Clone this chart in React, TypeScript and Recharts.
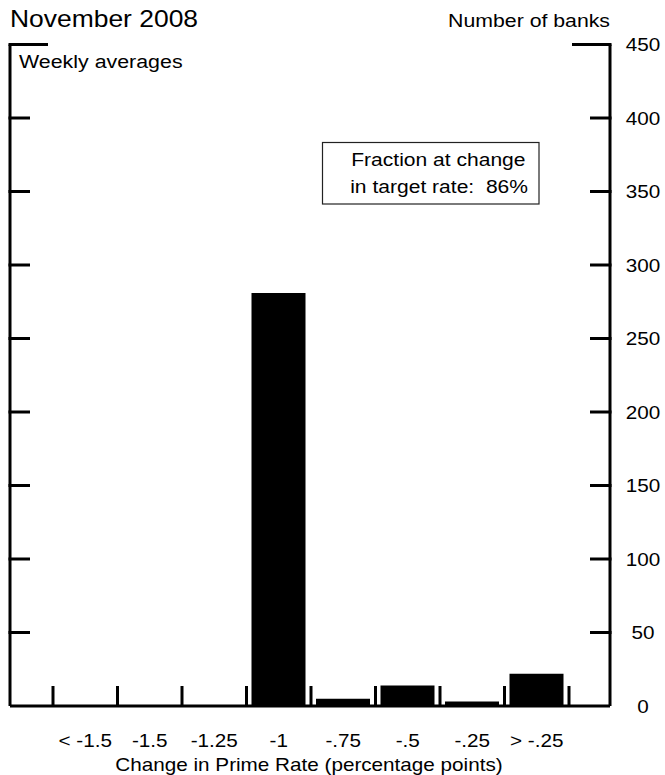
import React from 'react';
import { BarChart, Bar, XAxis, YAxis } from 'recharts';

const categories = ['< -1.5', '-1.5', '-1.25', '-1', '-.75', '-.5', '-.25', '> -.25'];
const bankCounts = [0, 0, 0, 281, 5, 14, 3, 22];
const yTicks = [0, 50, 100, 150, 200, 250, 300, 350, 400, 450];

const subtitle = 'November 2008';
const unitLabel = 'Number of banks';
const noteLabel = 'Weekly averages';
const boxLines = ['Fraction at change', 'in target rate:\u00A0\u00A086%'];
const xTitle = 'Change in Prime Rate (percentage points)';

const data = categories.map((c, i) => ({ category: c, banks: bankCounts[i] }));

const FONT = "'Liberation Sans', Arial, Helvetica, sans-serif";
const K = 1.15;

const W = 665;
const H = 775;
const MARGIN = { top: 44.5, right: 0, bottom: 68, left: 0 };
const LEFT_AXIS_W = 10;
const RIGHT_AXIS_W = 55;
const X_PAD = { left: 43, right: 41 };
const BASE_Y = H - MARGIN.bottom - 1;
const BAND =
  (W - MARGIN.left - MARGIN.right - LEFT_AXIS_W - RIGHT_AXIS_W - X_PAD.left - X_PAD.right) /
  categories.length;

const SText = ({ x, y, size, anchor = 'start', k = K, children }: any) => (
  <text
    transform={`translate(${x},${y}) scale(${k},1)`}
    textAnchor={anchor}
    fontSize={size}
    fontFamily={FONT}
    fill="#000"
  >
    {children}
  </text>
);

const LeftTick = (props: any) => {
  const { x, y, payload } = props;
  if (payload.value === 0) return <g />;
  const len = payload.value === 450 ? 38 : 20;
  return <line x1={x - 1.5} y1={y} x2={x + len} y2={y} stroke="#000" strokeWidth={3} />;
};

const RightTick = (props: any) => {
  const { x, y, payload } = props;
  const v = payload.value;
  const len = v === 450 ? 38 : 20;
  return (
    <g>
      {v !== 0 && <line x1={x - len} y1={y} x2={x + 1.5} y2={y} stroke="#000" strokeWidth={3} />}
      <SText x={x + 33} y={y + 6.5} size={18} anchor="middle">{v}</SText>
    </g>
  );
};

const CategoryTick = (props: any) => {
  const { x, payload, index } = props;
  const half = BAND / 2;
  const isLast = index === categories.length - 1;
  return (
    <g>
      <line x1={x - half} y1={BASE_Y} x2={x - half} y2={BASE_Y - 20} stroke="#000" strokeWidth={3} />
      {isLast && (
        <line x1={x + half} y1={BASE_Y} x2={x + half} y2={BASE_Y - 20} stroke="#000" strokeWidth={3} />
      )}
      <SText x={x} y={BASE_Y + 41} size={18} anchor="middle">{payload.value}</SText>
    </g>
  );
};

export default function App() {
  return (
    <div style={{ position: 'absolute', left: 0, top: 0, width: W, height: H, background: '#fff' }}>
      <BarChart width={W} height={H} data={data} margin={MARGIN}>
        <XAxis
          xAxisId="cat"
          dataKey="category"
          type="category"
          height={1}
          padding={X_PAD}
          axisLine={{ stroke: '#000', strokeWidth: 3 }}
          tickLine={false}
          tickSize={0}
          tickMargin={0}
          tick={<CategoryTick />}
          interval={0}
        />
        <YAxis
          yAxisId="left"
          orientation="left"
          width={LEFT_AXIS_W}
          domain={[0, 450]}
          ticks={yTicks}
          allowDataOverflow
          axisLine={{ stroke: '#000', strokeWidth: 3 }}
          tickLine={false}
          tickSize={0}
          tickMargin={0}
          tick={<LeftTick />}
          interval={0}
        />
        <YAxis
          yAxisId="right"
          orientation="right"
          width={RIGHT_AXIS_W}
          domain={[0, 450]}
          ticks={yTicks}
          allowDataOverflow
          axisLine={{ stroke: '#000', strokeWidth: 3 }}
          tickLine={false}
          tickSize={0}
          tickMargin={0}
          tick={<RightTick />}
          interval={0}
        />
        <Bar
          xAxisId="cat"
          yAxisId="right"
          dataKey="banks"
          fill="#000"
          barSize={54}
          isAnimationActive={false}
        />
      </BarChart>
      <svg
        width={W}
        height={H}
        style={{ position: 'absolute', left: 0, top: 0, pointerEvents: 'none' }}
      >
        <SText x={10} y={26.5} size={23}>{subtitle}</SText>
        <SText x={610} y={27} size={18.5} anchor="end">{unitLabel}</SText>
        <SText x={19} y={68.3} size={18.6}>{noteLabel}</SText>
        <rect x={322.5} y={142.5} width={216.5} height={61.5} fill="#fff" stroke="#222" strokeWidth={1.2} />
        <SText x={525.5} y={166} size={18.3} anchor="end">{boxLines[0]}</SText>
        <SText x={528} y={193.3} size={18.3} anchor="end">{boxLines[1]}</SText>
        <SText x={309} y={771} size={18} anchor="middle">{xTitle}</SText>
      </svg>
    </div>
  );
}
